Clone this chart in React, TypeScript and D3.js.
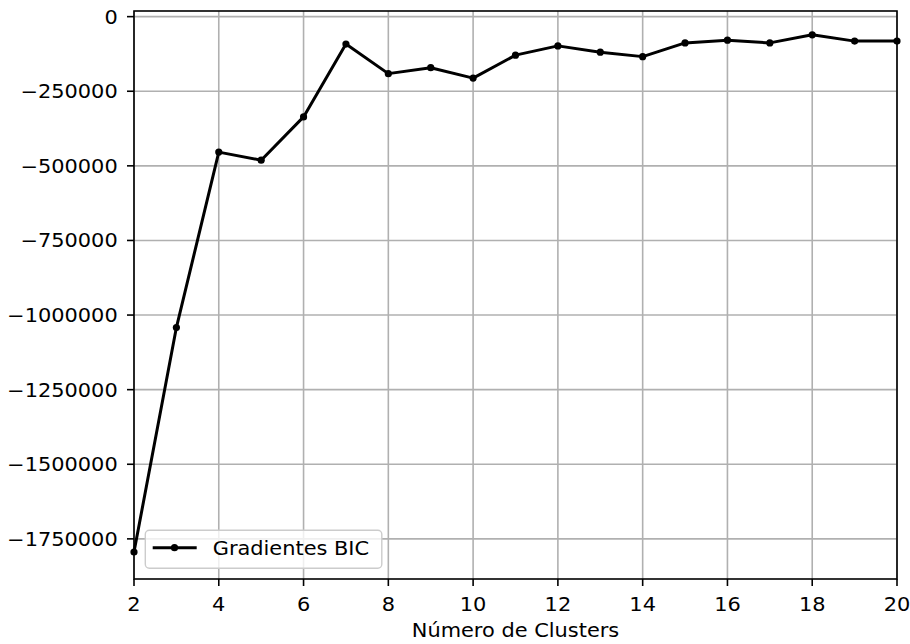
import React from "react";
import * as d3 from "d3";

const clusters = [2, 3, 4, 5, 6, 7, 8, 9, 10, 11, 12, 13, 14, 15, 16, 17, 18, 19, 20];
const bicGradients = [
  -1794000, -1042000, -454000, -481000, -336000, -92000, -191000, -171000, -206000,
  -129000, -98000, -119000, -134000, -88000, -79000, -88000, -61000, -82000, -82000,
];
const xTicks = [2, 4, 6, 8, 10, 12, 14, 16, 18, 20];
const yTicks = [0, -250000, -500000, -750000, -1000000, -1250000, -1500000, -1750000];
const seriesName = "Gradientes BIC";
const xLabel = "Número de Clusters";

const FS = 19;
const SX = 1.1;

function T(props: { x: number; y: number; anchor?: "start" | "middle" | "end"; children: React.ReactNode }) {
  return (
    <text
      transform={`translate(${props.x},${props.y}) scale(${SX},1)`}
      textAnchor={props.anchor || "start"}
      fontSize={FS}
      fill="#000"
    >
      {props.children}
    </text>
  );
}

export default function App() {
  const W = 910, H = 644;
  const L = 134, R = 897, Tp = 11, B = 579;
  const x = d3.scaleLinear().domain([2, 20]).range([L, R]);
  const y = d3.scaleLinear().domain([-1884500, 18900]).range([B, Tp]);
  const pts = clusters.map((c, i) => [c, bicGradients[i]] as [number, number]);
  const line = d3.line<[number, number]>().x(d => x(d[0])).y(d => y(d[1]));
  const fmt = (v: number) => (v < 0 ? "\u2212" + String(-v) : String(v));
  const font = "DejaVu Sans, sans-serif";
  const grid = "#b0b0b0";
  return (
    <svg width={W} height={H} style={{ position: "absolute", left: 0, top: 0, background: "#fff" }} fontFamily={font}>
      <rect x={0} y={0} width={W} height={H} fill="#fff" />
      {xTicks.map(t => (
        <line key={"gx" + t} x1={x(t)} x2={x(t)} y1={Tp} y2={B} stroke={grid} strokeWidth={1.6} />
      ))}
      {yTicks.map(t => (
        <line key={"gy" + t} x1={L} x2={R} y1={y(t)} y2={y(t)} stroke={grid} strokeWidth={1.6} />
      ))}
      <defs>
        <clipPath id="plotclip">
          <rect x={L - 4} y={Tp} width={R - L + 8} height={B - Tp} />
        </clipPath>
      </defs>
      <g clipPath="url(#plotclip)">
        <path d={line(pts) || ""} fill="none" stroke="#000" strokeWidth={3} strokeLinejoin="round" />
        {pts.map((p, i) => (
          <circle key={i} cx={x(p[0])} cy={y(p[1])} r={3.6} fill="#000" />
        ))}
      </g>
      <rect x={L} y={Tp} width={R - L} height={B - Tp} fill="none" stroke="#000" strokeWidth={1.6} />
      {xTicks.map(t => (
        <g key={"tx" + t}>
          <line x1={x(t)} x2={x(t)} y1={B} y2={B + 7} stroke="#000" strokeWidth={1.6} />
          <T x={x(t)} y={610.7} anchor="middle">{t}</T>
        </g>
      ))}
      {yTicks.map(t => (
        <g key={"ty" + t}>
          <line x1={L - 7} x2={L} y1={y(t)} y2={y(t)} stroke="#000" strokeWidth={1.6} />
          <T x={117.7} y={y(t) + 7} anchor="end">{fmt(t)}</T>
        </g>
      ))}
      <T x={(L + R) / 2} y={637.3} anchor="middle">{xLabel}</T>
      <g>
        <rect x={145.3} y={530.3} width={236.5} height={38} rx={4} fill="#fff" fillOpacity={0.8} stroke="#cccccc" strokeWidth={1.4} />
        <line x1={152.7} x2={196.7} y1={547.7} y2={547.7} stroke="#000" strokeWidth={3} />
        <circle cx={174.5} cy={547.7} r={3.6} fill="#000" />
        <T x={212.7} y={555.2}>{seriesName}</T>
      </g>
    </svg>
  );
}
